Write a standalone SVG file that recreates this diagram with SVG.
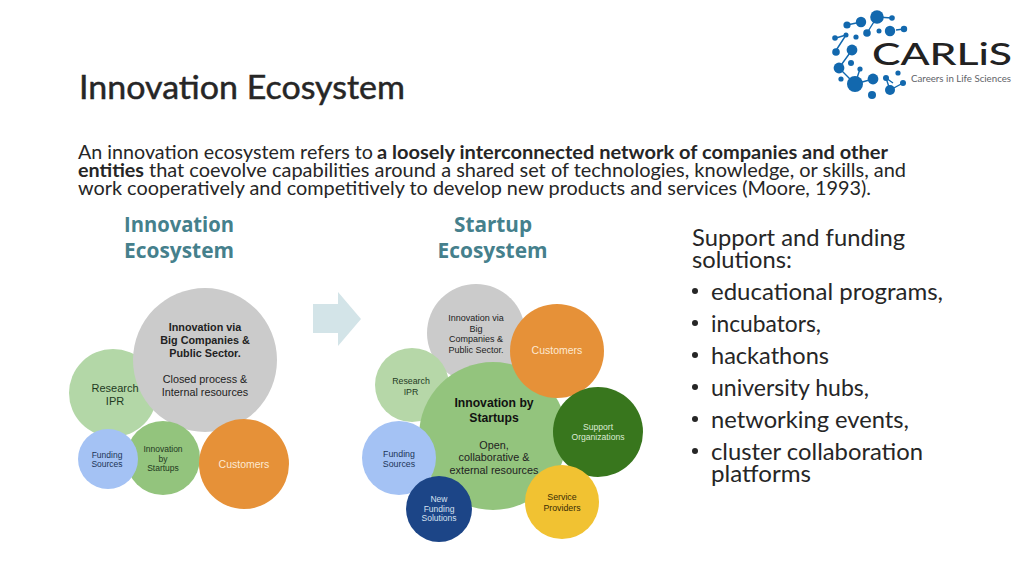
<svg xmlns="http://www.w3.org/2000/svg" width="1024" height="576" viewBox="0 0 1024 576" font-family="'Liberation Sans',Arial,sans-serif">
<style>
.c{text-anchor:middle}
.b{font-weight:700}
.body text{font-family:Lato,"Open Sans",sans-serif;font-size:18.6px;fill:#262626}
.side text{font-family:Lato,"Open Sans",sans-serif;font-size:24px;fill:#262626}
.hd text{font-family:"Open Sans",sans-serif;font-size:21px;font-weight:700;fill:#45808c;text-anchor:middle}
.dot{fill:#1268ae}
.ln{stroke:#1268ae;stroke-width:1.4;fill:none}
</style>
<rect width="1024" height="576" fill="#fff"/>
<text id="title" x="79" y="99" style="font-family:Lato,'Open Sans',sans-serif;font-size:33px;fill:#262626;stroke:#262626;stroke-width:.5" textLength="326" lengthAdjust="spacingAndGlyphs">Innovation Ecosystem</text>
<g id="intro" class="body">
<text x="78" y="159" textLength="295" lengthAdjust="spacingAndGlyphs">An innovation ecosystem refers to</text>
<text x="377" y="159" class="b" textLength="511" lengthAdjust="spacingAndGlyphs">a loosely interconnected network of companies and other</text>
<text x="78" y="177" class="b" textLength="66" lengthAdjust="spacingAndGlyphs">entities</text>
<text x="149" y="177" textLength="757" lengthAdjust="spacingAndGlyphs">that coevolve capabilities around a shared set of technologies, knowledge, or skills, and</text>
<text x="78" y="195" textLength="793" lengthAdjust="spacingAndGlyphs">work cooperatively and competitively to develop new products and services (Moore, 1993).</text>
</g>
<g id="heading-innovation" class="hd"><text x="179" y="232" textLength="110" lengthAdjust="spacingAndGlyphs">Innovation</text><text x="179" y="258" textLength="110" lengthAdjust="spacingAndGlyphs">Ecosystem</text></g>
<g id="heading-startup" class="hd"><text x="493" y="232" textLength="78" lengthAdjust="spacingAndGlyphs">Startup</text><text x="492.5" y="258" textLength="110" lengthAdjust="spacingAndGlyphs">Ecosystem</text></g>
<g id="connectors"><path id="arrow" d="M313 304H338V292L361 319L338 346V333H313Z" fill="#d3e4e8"/></g>
<g id="l-research"><circle cx="113" cy="393" r="44" fill="#b3d7a7"/><text class="c" font-size="11" fill="#1f3a1f"><tspan x="115" y="392">Research</tspan><tspan x="115" y="405">IPR</tspan></text></g>
<g id="l-gray"><circle cx="205" cy="360" r="72" fill="#cbcbcb"/><text class="c" font-size="10.8" fill="#222"><tspan x="205" y="331" class="b">Innovation via</tspan><tspan x="205" y="344" class="b">Big Companies &amp;</tspan><tspan x="205" y="357" class="b">Public Sector.</tspan><tspan x="205" y="383">Closed process &amp;</tspan><tspan x="205" y="396">Internal resources</tspan></text></g>
<g id="l-startups"><circle cx="163" cy="458" r="37" fill="#93c47d"/><text class="c" font-size="8.5" fill="#1f3a1f"><tspan x="163" y="452">Innovation</tspan><tspan x="163" y="462">by</tspan><tspan x="163" y="471">Startups</tspan></text></g>
<g id="l-funding"><circle cx="108" cy="459" r="30" fill="#a4c2f4"/><text class="c" font-size="8.5" fill="#1c3557"><tspan x="107" y="458">Funding</tspan><tspan x="107" y="467">Sources</tspan></text></g>
<g id="l-customers"><circle cx="244" cy="464" r="45" fill="#e69138"/><text x="244" y="468" class="c" font-size="10.5" fill="#fde9d2">Customers</text></g>
<g id="r-gray"><circle cx="476" cy="333" r="49" fill="#cbcbcb"/><text class="c" font-size="9" fill="#222"><tspan x="476" y="321">Innovation via</tspan><tspan x="476" y="332">Big</tspan><tspan x="476" y="342">Companies &amp;</tspan><tspan x="476" y="353">Public Sector.</tspan></text></g>
<g id="r-research"><circle cx="412" cy="385" r="37" fill="#b6d7a8"/><text class="c" font-size="8.8" fill="#1f3a1f"><tspan x="411" y="384">Research</tspan><tspan x="411" y="395">IPR</tspan></text></g>
<g id="r-main"><circle cx="493" cy="436" r="74" fill="#93c47d"/><text class="c" font-size="12.2" fill="#111"><tspan x="494" y="407" class="b">Innovation by</tspan><tspan x="494" y="422" class="b">Startups</tspan></text><text class="c" font-size="10.8" fill="#222"><tspan x="494" y="449">Open,</tspan><tspan x="494" y="461">collaborative &amp;</tspan><tspan x="494" y="474">external resources</tspan></text></g>
<g id="r-customers"><circle cx="557" cy="351" r="47" fill="#e69138"/><text x="557" y="354" class="c" font-size="10.5" fill="#fde9d2">Customers</text></g>
<g id="r-support"><circle cx="598" cy="432" r="45" fill="#38761d"/><text class="c" font-size="8.6" fill="#dcebd5"><tspan x="598" y="430">Support</tspan><tspan x="598" y="440">Organizations</tspan></text></g>
<g id="r-service"><circle cx="562" cy="502" r="37" fill="#f1c232"/><text class="c" font-size="8.8" fill="#3a2d05"><tspan x="562" y="500">Service</tspan><tspan x="562" y="511">Providers</tspan></text></g>
<g id="r-funding"><circle cx="399" cy="458" r="37" fill="#a4c2f4"/><text class="c" font-size="8.8" fill="#1c3557"><tspan x="399" y="457">Funding</tspan><tspan x="399" y="467">Sources</tspan></text></g>
<g id="r-new"><circle cx="439" cy="509" r="33" fill="#1c4587"/><text class="c" font-size="8.5" fill="#d6e0f0"><tspan x="439" y="502">New</tspan><tspan x="439" y="512">Funding</tspan><tspan x="439" y="521">Solutions</tspan></text></g>
<g id="side" class="side">
<text x="692" y="246" textLength="213" lengthAdjust="spacingAndGlyphs">Support and funding</text>
<text x="692" y="268" textLength="100" lengthAdjust="spacingAndGlyphs">solutions:</text>
<circle cx="695" cy="291" r="3" fill="#262626"/><text x="711" y="300" textLength="232" lengthAdjust="spacingAndGlyphs">educational programs,</text>
<circle cx="695" cy="323" r="3" fill="#262626"/><text x="711" y="332" textLength="110" lengthAdjust="spacingAndGlyphs">incubators,</text>
<circle cx="695" cy="355" r="3" fill="#262626"/><text x="711" y="364" textLength="118" lengthAdjust="spacingAndGlyphs">hackathons</text>
<circle cx="695" cy="387" r="3" fill="#262626"/><text x="711" y="396" textLength="158" lengthAdjust="spacingAndGlyphs">university hubs,</text>
<circle cx="695" cy="419" r="3" fill="#262626"/><text x="711" y="428" textLength="198" lengthAdjust="spacingAndGlyphs">networking events,</text>
<circle cx="695" cy="451" r="3" fill="#262626"/><text x="711" y="460" textLength="212" lengthAdjust="spacingAndGlyphs">cluster collaboration</text>
<text x="711" y="482" textLength="100" lengthAdjust="spacingAndGlyphs">platforms</text>
</g>
<g id="logo">
<path class="ln" d="M847 25L861 22M867 33L877 17L892 18M896 30L904 29M836 38L846 35M835 52L846 35M839 68L852 50M839 68L855 84M855 84L860 69M855 84L873 79M886 78L890 90L903 83M886 78L893 83"/>
<circle class="dot" cx="877" cy="17" r="6.8"/><circle class="dot" cx="892" cy="18" r="2.8"/>
<circle class="dot" cx="861" cy="22" r="5.2"/><circle class="dot" cx="847" cy="25" r="3.6"/>
<circle class="dot" cx="867" cy="33" r="3.8"/><circle class="dot" cx="879" cy="31" r="2.5"/>
<circle class="dot" cx="890" cy="31" r="5.2"/><circle class="dot" cx="904" cy="29" r="3.2"/>
<circle class="dot" cx="846" cy="35" r="2.5"/><circle class="dot" cx="856" cy="37" r="2.6"/><circle class="dot" cx="835" cy="38" r="2.8"/>
<circle class="dot" cx="852" cy="50" r="5.4"/><circle class="dot" cx="836" cy="52" r="3.8"/>
<circle class="dot" cx="851" cy="63" r="3"/><circle class="dot" cx="839" cy="68" r="5.4"/>
<circle class="dot" cx="860" cy="69" r="2.6"/><circle class="dot" cx="841" cy="79" r="2.6"/>
<circle class="dot" cx="855" cy="84" r="8"/><circle class="dot" cx="873" cy="79" r="5.4"/>
<circle class="dot" cx="872" cy="95" r="4"/><circle class="dot" cx="886" cy="78" r="3"/>
<circle class="dot" cx="898" cy="73" r="2.6"/><circle class="dot" cx="903" cy="83" r="3"/><circle class="dot" cx="890" cy="90" r="5"/>
<text x="872" y="65" font-family="Lato,'Open Sans',sans-serif" font-size="30" font-weight="500" fill="#222" textLength="140" lengthAdjust="spacingAndGlyphs">CARLiS</text>
<text x="911" y="82" font-family="Lato,'Open Sans',sans-serif" font-size="9.6" fill="#5f6368" textLength="100" lengthAdjust="spacingAndGlyphs">Careers in Life Sciences</text>
</g>
</svg>
